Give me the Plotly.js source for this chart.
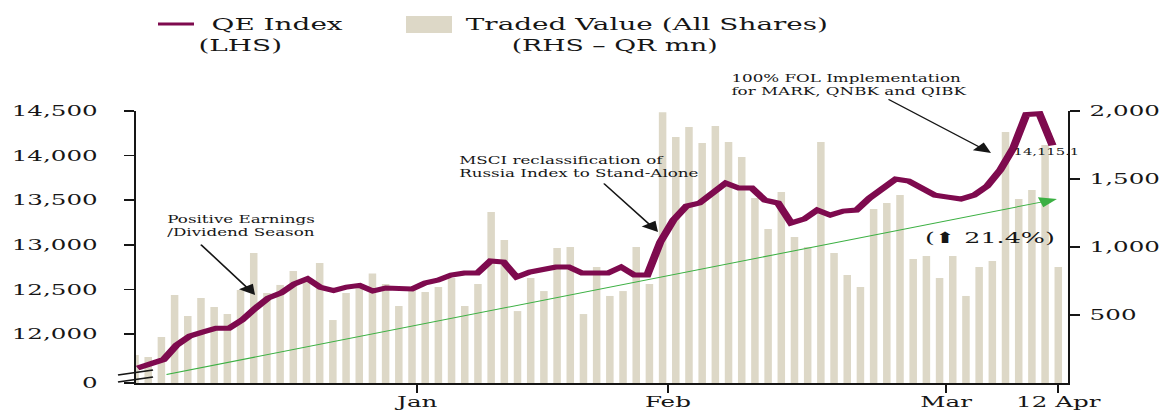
<!DOCTYPE html>
<html>
<head>
<meta charset="utf-8">
<script src="https://cdn.plot.ly/plotly-3.0.1.min.js"></script>
<style>
html,body{margin:0;padding:0;background:#fff;overflow:hidden;}
#wrap{width:1161px;height:412px;overflow:hidden;position:relative;}
#chart{width:708px;height:412px;transform:scaleX(1.64);transform-origin:0 0;}
</style>
</head>
<body>
<div id="wrap"><div id="chart"></div></div>
<script>
// ---------------- data ----------------
const tradedValue = [206,191,338,647,493,625,559,507,684,956,
  662,721,824,772,882,463,662,698,806,728,
  566,706,669,706,772,566,728,1257,1051,529,
  772,676,993,1000,507,853,640,676,1000,728,
  1990,1809,1882,1765,1890,1772,1662,1360,1132,1404,
  1074,1000,1772,956,794,706,1279,1323,1382,912,
  934,772,934,640,853,897,1846,1353,1419,1750,
  853];
const qeIndex = [11618,11665,11713,11876,11977,12022,12063,12063,12156,12287,
  12403,12461,12562,12620,12522,12487,12526,12545,12481,12515,
  12504,12504,12571,12605,12661,12683,12683,12818,12806,12638,
  12694,12717,12750,12750,12683,12683,12683,12750,12661,12661,
  13031,13277,13434,13468,13591,13692,13636,13636,13501,13468,
  13244,13288,13389,13333,13378,13389,13524,13636,13737,13714,
  13636,13557,13535,13513,13557,13658,13838,14084,14460,14470,
  14115.1];
const sessions = Array.from({length: tradedValue.length}, (_, i) => i);
const monthLabels = ['Jan','Feb','Mar','12 Apr'];
const monthTickPos = [21.4, 40.4, 61.5, 70];
const lhsTicks = [11450,12000,12500,13000,13500,14000,14500];
const lhsLabels = ['0','12,000','12,500','13,000','13,500','14,000','14,500'];
const rhsTicks = [500,1000,1500,2000];
const rhsLabels = ['500','1,000','1,500','2,000'];
const trendStart = [2.2, 11540];
const trendEnd = [69.9, 13513];
const changeLabel = '(\u2B06 21.4%)';
const seriesNames = ['QE Index', '(LHS)', 'Traded Value (All Shares)', '(RHS \u2013 QR mn)'];
const notes = [
  'Positive Earnings<br>/Dividend Season',
  'MSCI reclassification of<br>Russia Index to Stand-Alone',
  '100% FOL Implementation<br>for MARK, QNBK and QIBK'
];

// ---------------- geometry helpers ----------------
const S = 1.64, ML = 83, MR = 57, MT = 111, MB = 29, W = 708, H = 412;
const PW = W - ML - MR, PH = H - MT - MB;
const px = sx => (sx / S - ML) / PW;
const py = sy => (MT + PH - sy) / PH;

const INK = '#161616';
const LINE = '#7e0a4e';
const BAR = '#ddd8c7';
const GREEN = '#3cb043';
const FONT = 'DejaVu Serif';

const traces = [
  {type:'bar', x: sessions, y: tradedValue, xaxis:'x', yaxis:'y',
   marker:{color: BAR}, hoverinfo:'skip'},
  {type:'scatter', mode:'lines', x: sessions, y: qeIndex, xaxis:'x2', yaxis:'y2',
   line:{color: LINE, width:5}, hoverinfo:'skip'}
];

const txt = (text, sx, sy, size, extra) => Object.assign({
  text, xref:'paper', yref:'paper', x: px(sx), y: py(sy),
  xanchor:'left', yanchor:'middle', align:'left', showarrow:false,
  font:{family: FONT, size, color: INK}
}, extra || {});

const arrow = (x, y, ax, ay) => ({
  text:'', xref:'x', yref:'y2', x, y, ax, ay, showarrow:true,
  arrowhead:2, arrowsize:1.7, arrowwidth:1.2, arrowcolor: INK
});

const annotations = [
  txt(seriesNames[0], 208, 24, 17),
  txt(seriesNames[1], 195, 45, 17),
  txt(seriesNames[2], 463, 24, 17),
  txt(seriesNames[3], 509, 45, 16.3),
  txt(notes[0], 164, 226, 10.2),
  txt(notes[1], 456, 166.5, 10.2),
  txt(notes[2], 728, 85, 10.2),
  txt(changeLabel, 921, 238, 15.5),
  {text: qeIndex[qeIndex.length-1].toLocaleString('en-US',{minimumFractionDigits:1}),
   xref:'x2', yref:'y2', x: sessions[sessions.length-1], y: qeIndex[qeIndex.length-1],
   xanchor:'left', yanchor:'middle', xshift:-26, yshift:-7, showarrow:false,
   font:{family: FONT, size:9, color: INK}},
  arrow(9.1, 12436, -34, -52),
  arrow(39.65, 13143, -34, -50),
  arrow(64.9, 14028, -64, -55),
  {text:'', xref:'x', yref:'y2', x: trendEnd[0], y: trendEnd[1],
   axref:'x', ayref:'y2', ax: trendStart[0], ay: trendStart[1],
   showarrow:true, arrowhead:2, arrowsize:2.1, arrowwidth:1.0, arrowcolor: GREEN}
];

const shapes = [
  {type:'line', xref:'paper', yref:'paper', x0:px(158), x1:px(194), y0:py(24), y1:py(24),
   line:{color: LINE, width:3.2}},
  {type:'rect', xref:'paper', yref:'paper', x0:px(406), x1:px(452), y0:py(33), y1:py(16),
   fillcolor: BAR, line:{width:0}},
  {type:'line', xref:'paper', yref:'paper', x0:px(118), x1:px(153), y0:py(375), y1:py(370),
   line:{color: INK, width:1.3}},
  {type:'line', xref:'paper', yref:'paper', x0:px(118), x1:px(153), y0:py(382), y1:py(377),
   line:{color: INK, width:1.3}}
];

const axisCommon = {showgrid:false, zeroline:false, showline:true, linecolor: INK,
  ticks:'outside', tickcolor: INK, fixedrange:true};

const layout = {
  width: W, height: H,
  margin:{l: ML, r: MR, t: MT, b: MB, pad:0},
  paper_bgcolor:'#ffffff', plot_bgcolor:'rgba(0,0,0,0)',
  showlegend:false, bargap:0.43,
  font:{family: FONT, color: INK},
  xaxis: Object.assign({}, axisCommon, {
    range:[0.083, 70.71], tickmode:'array', tickvals: monthTickPos, ticktext: monthLabels,
    ticklen:8, tickwidth:1.2, linewidth:2, ticklabelstandoff:-4,
    tickfont:{family: FONT, size:15, color: INK}
  }),
  xaxis2: {overlaying:'x', anchor:'y2', range:[-0.107, 71.16], visible:false, fixedrange:true},
  yaxis: Object.assign({}, axisCommon, {
    side:'right', range:[0, 2000], tickmode:'array', tickvals: rhsTicks, ticktext: rhsLabels,
    ticklen:6, tickwidth:1.6, linewidth:1.4, ticklabelstandoff:3,
    tickfont:{family: FONT, size:15, color: INK}
  }),
  yaxis2: Object.assign({}, axisCommon, {
    overlaying:'y', side:'left', anchor:'x', range:[11450, 14500], tickmode:'array',
    tickvals: lhsTicks, ticktext: lhsLabels,
    ticklen:6, tickwidth:1.6, linewidth:1.4, ticklabelstandoff:13,
    tickfont:{family: FONT, size:15, color: INK}
  }),
  annotations, shapes
};

Plotly.newPlot('chart', traces, layout, {displayModeBar:false, staticPlot:true, responsive:false});
</script>
</body>
</html>
